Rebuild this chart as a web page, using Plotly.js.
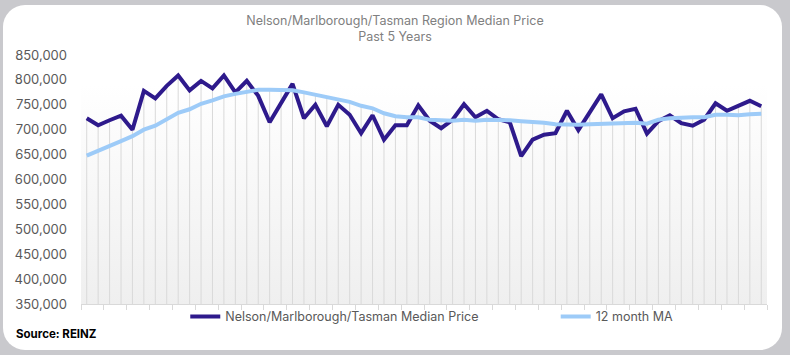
<!DOCTYPE html>
<html>
<head>
<meta charset="utf-8">
<script src="https://cdn.plot.ly/plotly-3.0.1.min.js"></script>
<style>
  html, body { margin:0; padding:0; width:790px; height:355px; overflow:hidden; background:#c9c9cd; }
  #card { position:absolute; left:3px; top:5px; width:779px; height:345px; background:#ffffff; border-radius:22px; }
  #chart { position:absolute; left:0; top:0; width:790px; height:355px; }
</style>
</head>
<body>
<div id="card"></div>
<div id="chart"></div>
<script>
const months = ["Jul-19","Aug-19","Sep-19","Oct-19","Nov-19","Dec-19",
  "Jan-20","Feb-20","Mar-20","Apr-20","May-20","Jun-20","Jul-20","Aug-20","Sep-20","Oct-20","Nov-20","Dec-20",
  "Jan-21","Feb-21","Mar-21","Apr-21","May-21","Jun-21","Jul-21","Aug-21","Sep-21","Oct-21","Nov-21","Dec-21",
  "Jan-22","Feb-22","Mar-22","Apr-22","May-22","Jun-22","Jul-22","Aug-22","Sep-22","Oct-22","Nov-22","Dec-22",
  "Jan-23","Feb-23","Mar-23","Apr-23","May-23","Jun-23","Jul-23","Aug-23","Sep-23","Oct-23","Nov-23","Dec-23",
  "Jan-24","Feb-24","Mar-24","Apr-24","May-24","Jun-24"];

const medianPrice = [723000,709000,719000,728000,700000,778000,763000,788000,809000,779000,
  798000,783000,809000,775000,798000,768000,715000,753000,792000,723000,
  750000,707000,750000,730000,693000,729000,680000,709000,709000,749000,
  718000,703000,720000,751000,725000,738000,721000,715000,647000,680000,
  690000,693000,738000,699000,735000,771000,723000,737000,742000,692000,
  717000,729000,713000,708000,720000,753000,738000,748000,758000,747000];

const movingAvg = [648000,657000,667000,677000,687000,700000,708000,720000,734000,741000,
  752000,759000,767000,772000,777000,780000,780000,779000,779000,775000,
  770000,765000,761000,756000,748000,743000,733000,727000,725000,725000,
  720000,718000,718000,720000,718000,720000,720000,719000,717000,716000,
  714000,711000,710000,710000,711000,712000,712000,713000,714000,712000,
  720000,723000,725000,725000,725000,730000,730000,729000,731000,732000];

const seriesNames = ["Nelson/Marlborough/Tasman Median Price", "12 month MA"];
const titleText = "Nelson/Marlborough/Tasman Region Median Price<br>Past 5 Years";
const sourceText = "<b>Source: REINZ</b>";
const yMin = 350000, yMax = 850000;

// drop lines from the highest point at each category to the axis
const dropX = [], dropY = [];
months.forEach((m, i) => {
  dropX.push(m, m, null);
  dropY.push(Math.max(medianPrice[i], movingAvg[i]), yMin, null);
});

const font = "Inter, 'DejaVu Sans', sans-serif";

const traces = [
  { x: dropX, y: dropY, mode: "lines", line: {color: "#d9d9d9", width: 1}, showlegend: false, hoverinfo: "skip" },
  { x: months, y: medianPrice, name: seriesNames[0], mode: "lines", line: {color: "#2e1a8c", width: 4}, legend: "legend" },
  { x: months, y: movingAvg, name: seriesNames[1], mode: "lines", line: {color: "#9dcbf8", width: 4}, legend: "legend2" }
];

const gradSvg = "data:image/svg+xml;utf8," + encodeURIComponent(
  '<svg xmlns="http://www.w3.org/2000/svg" width="100" height="100" preserveAspectRatio="none">' +
  '<defs><linearGradient id="g" x1="0" y1="0" x2="0" y2="1">' +
  '<stop offset="0" stop-color="#ffffff"/><stop offset="1" stop-color="#efefef"/></linearGradient></defs>' +
  '<rect width="100" height="100" fill="url(#g)"/></svg>');

const legendFont = {size: 12.5, color: "#595959", family: font};

const layout = {
  width: 790, height: 355,
  paper_bgcolor: "rgba(0,0,0,0)", plot_bgcolor: "rgba(0,0,0,0)",
  margin: {l: 81, r: 23, t: 55, b: 51},
  font: {family: font, color: "#595959"},
  title: {text: titleText, font: {size: 12.5, color: "#808080", family: font}, x: 0.5, xanchor: "center", y: 0.93, yanchor: "top"},
  xaxis: {
    type: "category", showticklabels: false, showgrid: false, zeroline: false,
    showline: true, linecolor: "#d9d9d9", linewidth: 1,
    ticks: "outside", ticklen: 5, tickcolor: "#d9d9d9", tickson: "boundaries",
    range: [-0.5, months.length - 0.5]
  },
  yaxis: {
    range: [yMin, yMax], dtick: 50000, tickformat: ",", showgrid: false, zeroline: false,
    showline: false, ticks: "", tickfont: {size: 13, color: "#595959", family: font}, ticklabelstandoff: 13
  },
  images: [{source: gradSvg, xref: "paper", yref: "y", x: 0, y: 790000, sizex: 1, sizey: 440000,
    sizing: "stretch", layer: "below", xanchor: "left", yanchor: "top"}],
  legend: {orientation: "h", x: 0.152, xanchor: "left", y: -0.052, yanchor: "middle", font: legendFont, itemwidth: 30},
  legend2: {orientation: "h", x: 0.692, xanchor: "left", y: -0.052, yanchor: "middle", font: legendFont, itemwidth: 30},
  annotations: [{text: sourceText, xref: "paper", yref: "paper", x: -0.097, y: -0.085, xanchor: "left", yanchor: "top",
    showarrow: false, font: {size: 11.5, color: "#000000", family: font}}]
};

Plotly.newPlot("chart", traces, layout, {displayModeBar: false, staticPlot: true});
</script>
</body>
</html>
